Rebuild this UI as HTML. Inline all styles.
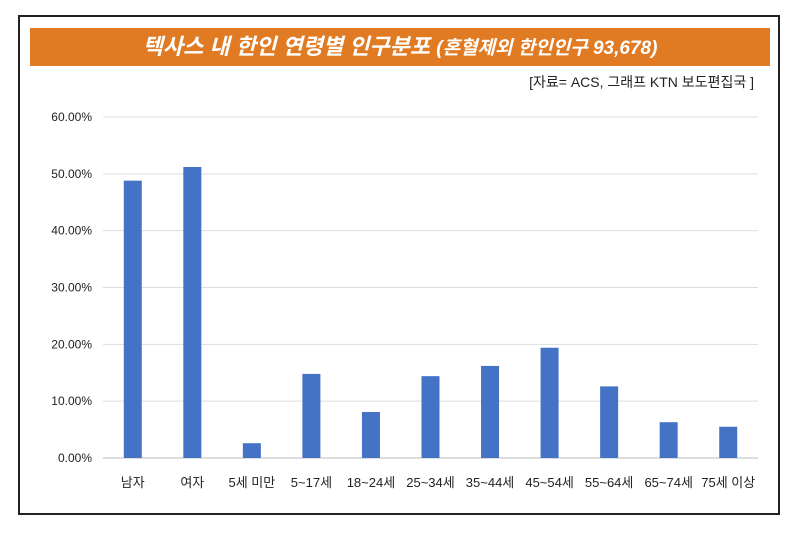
<!DOCTYPE html>
<html><head><meta charset="utf-8"><style>
body{margin:0;background:#fff;width:800px;height:533px;overflow:hidden;font-family:"Liberation Sans","Noto Sans CJK KR",sans-serif}
#frame{position:absolute;left:18px;top:15px;width:762px;height:500px;border:2px solid #222;box-sizing:border-box}
#title{position:absolute;left:30px;top:28px;width:740px;height:38px;background:#e07b24;color:#fff;font-weight:bold;font-size:22px;line-height:38px;text-align:center;font-style:italic}
#title span{font-size:19px}
#src{position:absolute;right:46px;top:72px;font-size:14px;color:#222}
svg{position:absolute;left:0;top:0}
</style></head><body>
<div id="frame"></div>
<div id="title">텍사스 내 한인 연령별 인구분포 <span>(혼혈제외 한인인구 93,678)</span></div>
<div id="src">[자료= ACS, 그래프 KTN 보도편집국 ]</div>
<svg id="chart" width="800" height="533"></svg>
<script>
const categories=["남자","여자","5세 미만","5~17세","18~24세","25~34세","35~44세","45~54세","55~64세","65~74세","75세 이상"];
const values=[48.8,51.2,2.6,14.8,8.1,14.4,16.2,19.4,12.6,6.3,5.5];
const ticks=[0,10,20,30,40,50,60];
const NS="http://www.w3.org/2000/svg";
const svg=document.getElementById('chart');
const x0=103,x1=758,y0=458,y1=117,yMax=60;
const y=v=>y0-(v/yMax)*(y0-y1);
const step=(x1-x0)/categories.length;
const xc=i=>x0+step*(i+0.5);
function mk(t,a){const e=document.createElementNS(NS,t);for(const k in a)e.setAttribute(k,a[k]);svg.appendChild(e);return e;}
ticks.forEach(t=>{
 const l=mk('line',{x1:x0,x2:x1,y1:y(t),y2:y(t),stroke:t===0?'#bbb':'#ddd','stroke-width':1});
 
 
 const tx=mk('text',{x:92,y:y(t)+4,'text-anchor':'end','font-size':12,fill:'#222','font-family':'Liberation Sans, sans-serif'});
 tx.textContent=t.toFixed(2)+'%';
 
 
});
categories.forEach((c,i)=>{
 const r=mk('rect',{x:xc(i)-9,y:y(values[i]),width:18,height:y0-y(values[i]),fill:'#4472c4'});
 
 
 const tx=mk('text',{x:xc(i),y:487,'text-anchor':'middle','font-size':13,fill:'#222','font-family':'Liberation Sans, Noto Sans CJK KR, sans-serif'});
 tx.textContent=c;
 
 
});
</script>
</body></html>
